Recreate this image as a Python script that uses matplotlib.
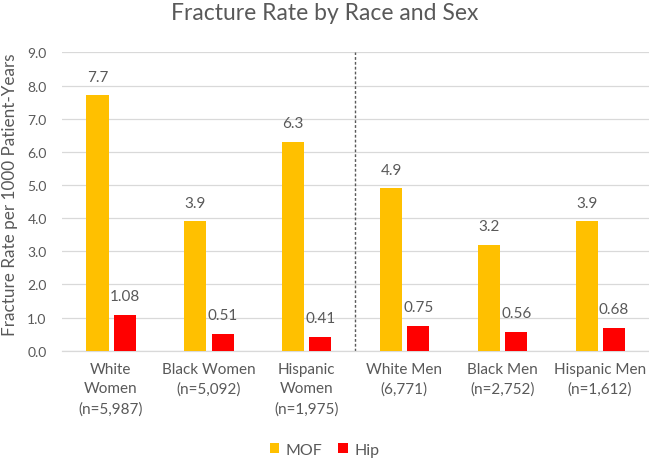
import matplotlib
matplotlib.use("Agg")
import matplotlib.pyplot as plt
import numpy as np

categories = ["White\nWomen\n(n=5,987)", "Black Women\n(n=5,092)", "Hispanic\nWomen\n(n=1,975)",
              "White Men\n(6,771)", "Black Men\n(n=2,752)", "Hispanic Men\n(n=1,612)"]
mof = [7.7, 3.9, 6.3, 4.9, 3.2, 3.9]
hip = [1.08, 0.51, 0.41, 0.75, 0.56, 0.68]
mof_labels = ["7.7", "3.9", "6.3", "4.9", "3.2", "3.9"]
hip_labels = ["1.08", "0.51", "0.41", "0.75", "0.56", "0.68"]
yticks = [0, 1, 2, 3, 4, 5, 6, 7, 8, 9]

plt.rcParams['font.family'] = ['Lato', 'DejaVu Sans']
txt = '#595959'

fig = plt.figure(figsize=(6.49, 4.60), dpi=100)
ax = fig.add_axes([0.0955, 0.2354, 0.9045, 0.6486])

x = np.arange(len(categories))
w = 0.225
b1 = ax.bar(x - 0.137, mof, w, color='#FFC000', label='MOF', zorder=3)
b2 = ax.bar(x + 0.142, hip, w, color='#FF0000', label='Hip', zorder=3)

for rect, lab in zip(b1, mof_labels):
    ax.annotate(lab, (rect.get_x() + rect.get_width() / 2, rect.get_height()),
                xytext=(0, 13.5), textcoords='offset points', ha='center', va='center',
                fontsize=11, color=txt)
for rect, lab in zip(b2, hip_labels):
    ax.annotate(lab, (rect.get_x() + rect.get_width() / 2, rect.get_height()),
                xytext=(0, 13.5), textcoords='offset points', ha='center', va='center',
                fontsize=11, color=txt)

ax.set_xlim(-0.5, 5.5)
ax.set_ylim(0, 9)
ax.set_yticks(yticks)
ax.set_yticklabels([f"{v:.1f}" for v in yticks], fontsize=10, color=txt)
ax.set_xticks(x)
ax.set_xticklabels(categories, fontsize=11, color=txt, linespacing=1.5)
ax.tick_params(axis='y', length=0, pad=11)
ax.tick_params(axis='x', length=0, pad=8)

ax.grid(axis='y', color='#d9d9d9', linewidth=0.9, zorder=0)
for s in ['top', 'right', 'left']:
    ax.spines[s].set_visible(False)
ax.spines['bottom'].set_color('#d9d9d9')
ax.spines['bottom'].set_linewidth(0.9)

ax.axvline(2.5, color='#595959', linestyle=(0, (2, 1.5)), linewidth=1.0, zorder=2)

fig.text(0.5, 1 - 13 / 460, "Fracture Rate by Race and Sex", ha='center', va='center',
         fontsize=16.5, color=txt)
fig.text(10 / 649, 1 - 194.5 / 460, "Fracture Rate per 1000 Patient-Years", rotation=90,
         ha='center', va='center', fontsize=12.3, color=txt)

fig.legend(handles=[b1, b2], labels=['MOF', 'Hip'], loc='center', bbox_to_anchor=(0.5, 1 - 451 / 460),
           ncol=2, frameon=False, fontsize=11.5, handlelength=0.6, handleheight=0.6,
           handletextpad=0.4, columnspacing=1.0, labelcolor=txt)

fig.savefig("out.png", dpi=100)
